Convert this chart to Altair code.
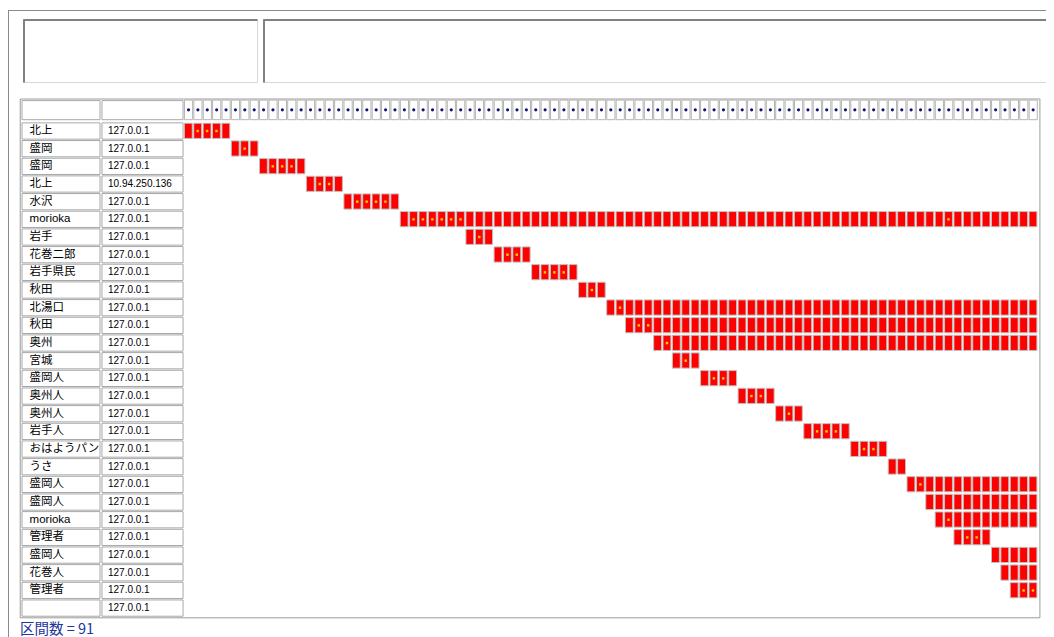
import altair as alt
import pandas as pd

# ---------------- data ----------------
names = ["北上", "盛岡", "盛岡", "北上", "水沢", "morioka", "岩手", "花巻二郎", "岩手県民",
         "秋田", "北湯口", "秋田", "奥州", "宮城", "盛岡人", "奥州人", "奥州人", "岩手人",
         "おはようパン", "うさ", "盛岡人", "盛岡人", "morioka", "管理者", "盛岡人", "花巻人",
         "管理者", ""]
ips = ["127.0.0.1", "127.0.0.1", "127.0.0.1", "10.94.250.136", "127.0.0.1", "127.0.0.1",
       "127.0.0.1", "127.0.0.1", "127.0.0.1", "127.0.0.1", "127.0.0.1", "127.0.0.1",
       "127.0.0.1", "127.0.0.1", "127.0.0.1", "127.0.0.1", "127.0.0.1", "127.0.0.1",
       "127.0.0.1", "127.0.0.1", "127.0.0.1", "127.0.0.1", "127.0.0.1", "127.0.0.1",
       "127.0.0.1", "127.0.0.1", "127.0.0.1", "127.0.0.1"]
span_start = [0, 5, 8, 13, 17, 23, 30, 33, 37, 42, 45, 47, 50, 52, 55, 59, 63, 66, 71, 75,
              77, 79, 80, 82, 86, 87, 88]
span_end = [4, 7, 12, 16, 22, 90, 32, 36, 41, 44, 90, 90, 90, 54, 58, 62, 65, 70, 74, 76,
            90, 90, 90, 85, 90, 90, 90]
marked_cells = [[1, 2, 3], [6], [9, 10, 11], [14, 15], [18, 19, 20, 21],
                [24, 25, 26, 27, 28, 29, 81], [31], [34, 35], [38, 39, 40], [43], [46],
                [48, 49], [51], [53], [56, 57], [60, 61], [64], [67, 68, 69], [72, 73], [],
                [78], [], [81], [83, 84], [], [], [89, 90]]
interval_count = 91

# ---------------- tables ----------------
rows = pd.DataFrame({"row": list(range(len(names))), "name": names, "ip": ips})
cells = pd.DataFrame([{"row": r, "col": c}
                      for r in range(len(span_start))
                      for c in range(span_start[r], span_end[r] + 1)])
dots = pd.DataFrame([{"row": r, "col": c}
                     for r, cs in enumerate(marked_cells) for c in cs])
header = pd.DataFrame({"col": list(range(interval_count))})
caption = pd.DataFrame({"t": [f"区間数 = {interval_count}"]})

W, H = 1038, 629
xs = alt.Scale(domain=[-18.753, 91.848], nice=False, zero=False)
ys = alt.Scale(domain=[-6.961, 28.636], nice=False, zero=False, reverse=True)

def X(f):
    return alt.X(f, type="quantitative", scale=xs, axis=None)

def Y(f):
    return alt.Y(f, type="quantitative", scale=ys, axis=None)

GRAY = "#a8a8a8"

# outer table frame
frame = alt.Chart(pd.DataFrame({"a": [0]})).mark_rect(
    fill="white", stroke="#9c9c9c", strokeWidth=1
).encode(
    x=alt.X(datum=-17.45, scale=xs, axis=None), x2=alt.X2(datum=91.2),
    y=alt.Y(datum=-1.81, scale=ys, axis=None), y2=alt.Y2(datum=27.55)
)

# label cells (name / ip), including header row (row -1)
lab_rows = pd.concat([pd.DataFrame({"row": [-1], "name": [""], "ip": [""]}), rows])
name_cells = alt.Chart(lab_rows).mark_rect(fill="white", stroke=GRAY, strokeWidth=1).transform_calculate(
    y0="datum.row < 0 ? -1.72 : datum.row - 0.46",
    y1="datum.row < 0 ? -0.64 : datum.row + 0.46",
).encode(
    x=alt.X(datum=-17.26, scale=xs, axis=None), x2=alt.X2(datum=-8.95),
    y=Y("y0"), y2="y1"
)
ip_cells = alt.Chart(lab_rows).mark_rect(fill="white", stroke=GRAY, strokeWidth=1).transform_calculate(
    y0="datum.row < 0 ? -1.72 : datum.row - 0.46",
    y1="datum.row < 0 ? -0.64 : datum.row + 0.46",
).encode(
    x=alt.X(datum=-8.74, scale=xs, axis=None), x2=alt.X2(datum=-0.1),
    y=Y("y0"), y2="y1"
)
name_text = alt.Chart(rows).mark_text(
    align="left", baseline="middle", font="Liberation Sans, Noto Sans CJK JP",
    fontSize=11.5, color="black"
).encode(x=alt.X(datum=-16.45, scale=xs, axis=None), y=Y("row"), text="name:N")
ip_text = alt.Chart(rows).mark_text(
    align="left", baseline="middle", font="Liberation Sans", fontSize=10, color="black"
).encode(x=alt.X(datum=-8.1, scale=xs, axis=None), y=Y("row"), text="ip:N")

# header cells with dots
head_cells = alt.Chart(header).mark_rect(fill="white", stroke="#b4b4b4", strokeWidth=1).transform_calculate(
    x0="datum.col + 0.05", x1="datum.col + 0.92"
).encode(
    x=X("x0"), x2="x1",
    y=alt.Y(datum=-1.75, scale=ys, axis=None), y2=alt.Y2(datum=-0.64)
)
head_dots = alt.Chart(header).mark_circle(size=10, color="#10107a", opacity=1).transform_calculate(
    xc="datum.col + 0.48"
).encode(x=X("xc"), y=alt.Y(datum=-1.2, scale=ys, axis=None))

# red cells
red = alt.Chart(cells).mark_rect(fill="#ff0000", stroke="#c0c0c0", strokeWidth=1).transform_calculate(
    x0="datum.col + 0.04", x1="datum.col + 0.88",
    y0="datum.row - 0.44", y1="datum.row + 0.42"
).encode(x=X("x0"), x2="x1", y=Y("y0"), y2="y1")
yel = alt.Chart(dots).mark_square(filled=True, size=6, color="#ffc400", opacity=1).transform_calculate(
    xc="datum.col + 0.46"
).encode(x=X("xc"), y=Y("row"))

# page decoration: outer border and the two empty boxes (pixel positions)
deco = pd.DataFrame({"a": [0]})
outer_top = alt.Chart(deco).mark_rule(color="#8a8a8a", strokeWidth=1).encode(
    x=alt.value(0), x2=alt.value(W), y=alt.value(2.5))
outer_left = alt.Chart(deco).mark_rule(color="#8a8a8a", strokeWidth=1).encode(
    x=alt.value(0.5), y=alt.value(2), y2=alt.value(H))
box1 = alt.Chart(deco).mark_rect(fill="white", stroke="#d8d8d8", strokeWidth=1).encode(
    x=alt.value(15.5), x2=alt.value(249.5), y=alt.value(11.5), y2=alt.value(74.5))
box2 = alt.Chart(deco).mark_rect(fill="white", stroke="#d8d8d8", strokeWidth=1).encode(
    x=alt.value(255.5), x2=alt.value(W + 10), y=alt.value(11.5), y2=alt.value(74.5))
b1t = alt.Chart(deco).mark_rule(color="#808080", strokeWidth=2).encode(
    x=alt.value(15.5), x2=alt.value(249.5), y=alt.value(12))
b1l = alt.Chart(deco).mark_rule(color="#808080", strokeWidth=2).encode(
    x=alt.value(16), y=alt.value(11.5), y2=alt.value(74.5))
b2t = alt.Chart(deco).mark_rule(color="#808080", strokeWidth=2).encode(
    x=alt.value(255.5), x2=alt.value(W + 10), y=alt.value(12))
b2l = alt.Chart(deco).mark_rule(color="#808080", strokeWidth=2).encode(
    x=alt.value(256), y=alt.value(11.5), y2=alt.value(74.5))

cap = alt.Chart(caption).mark_text(
    align="left", baseline="middle", font="Noto Sans CJK JP", fontSize=14.5, color="#25349a"
).encode(x=alt.value(12), y=alt.value(622), text="t:N")

chart = alt.layer(
    outer_top, outer_left, box1, box2, b1t, b1l, b2t, b2l,
    frame, name_cells, ip_cells, name_text, ip_text,
    head_cells, head_dots, red, yel, cap
).properties(
    width=W, height=H, autosize=alt.AutoSizeParams(type="none"), padding=0
).configure_view(stroke=None)

chart.save("out.html", embed_options={"renderer": "svg", "actions": False})
